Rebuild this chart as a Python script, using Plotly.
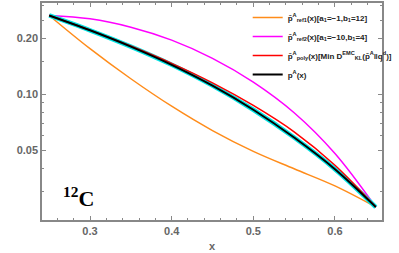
import plotly.graph_objects as go

x_vals = [0.25, 0.30, 0.35, 0.40, 0.45, 0.50, 0.55, 0.60, 0.65]
p_ref1 = [0.266, 0.1762, 0.1213, 0.0863, 0.0638, 0.0493, 0.0397, 0.0321, 0.0247]
p_ref2 = [0.266, 0.2553, 0.2301, 0.1959, 0.1563, 0.1164, 0.0796, 0.0480, 0.0247]
p_poly = [0.266, 0.2218, 0.1820, 0.1469, 0.1153, 0.0871, 0.0628, 0.0415, 0.0247]
p_true = [0.266, 0.2213, 0.1807, 0.1442, 0.1114, 0.0826, 0.0585, 0.0395, 0.0247]

y_ticks = [0.05, 0.10, 0.20]
y_ticktext = ["0.05", "0.10", "0.20"]
y_minor = [0.02, 0.03, 0.04, 0.06, 0.07, 0.08, 0.09, 0.15, 0.25, 0.3]
x_ticks = [0.3, 0.4, 0.5, 0.6]

names = [
    "p\u0304<sup>A</sup><sub>ref1</sub>(x)[a<sub>1</sub>=\u22121,b<sub>1</sub>=12]",
    "p\u0304<sup>A</sup><sub>ref2</sub>(x)[a<sub>1</sub>=\u221210,b<sub>1</sub>=4]",
    "p\u0304<sup>A</sup><sub>poly</sub>(x)[Min D<sup>EMC</sup><sub>KL</sub>(p\u0304<sup>A</sup>\u2016q<sup>d</sup>)]",
    "p<sup>A</sup>(x)",
]

fig = go.Figure()
fig.add_trace(go.Scatter(x=x_vals, y=p_ref1, mode="lines", name=names[0],
                         line=dict(color="#FF8C1A", width=1.5, shape="spline")))
fig.add_trace(go.Scatter(x=x_vals, y=p_ref2, mode="lines", name=names[1],
                         line=dict(color="#FF00FF", width=1.5, shape="spline")))
fig.add_trace(go.Scatter(x=x_vals, y=p_true, mode="lines", showlegend=False,
                         line=dict(color="#00E5E5", width=4.5, shape="spline")))
fig.add_trace(go.Scatter(x=x_vals, y=p_poly, mode="lines", name=names[2],
                         line=dict(color="#FF0000", width=1.5, shape="spline")))
fig.add_trace(go.Scatter(x=x_vals, y=p_true, mode="lines", name=names[3],
                         line=dict(color="#000000", width=2, shape="spline")))

axis_common = dict(showline=True, mirror="allticks", linecolor="#888888", linewidth=1.5,
                   ticks="inside", tickcolor="#888888", showgrid=False, zeroline=False,
                   tickfont=dict(family="Liberation Sans", size=11, color="#666666", weight="bold"))

fig.update_xaxes(range=[0.2412, 0.6576], tickvals=x_ticks, ticklen=4,
                 minor=dict(dtick=0.02, tick0=0.24, ticklen=2, ticks="inside", tickcolor="#888888"),
                 title=dict(text="x", font=dict(family="Liberation Sans", size=11, color="#666666", weight="bold"),
                            standoff=6),
                 **axis_common)
fig.update_yaxes(type="log", range=[-1.677, -0.508], tickvals=y_ticks, ticktext=y_ticktext, ticklen=4,
                 minor=dict(tickmode="array", tickvals=y_minor, ticklen=2, ticks="inside", tickcolor="#888888"),
                 **axis_common)

fig.add_annotation(text="<sup>12</sup>C", x=0.056, y=0.034, xref="paper", yref="paper",
                   xanchor="left", yanchor="bottom",
                   showarrow=False, font=dict(family="Liberation Serif", size=22, color="#000000", weight="bold"))

fig.update_layout(
    width=399, height=253,
    margin=dict(l=42, r=3, t=1, b=33),
    paper_bgcolor="white", plot_bgcolor="white",
    legend=dict(x=0.605, y=1.0, xanchor="left", yanchor="top", bgcolor="rgba(0,0,0,0)",
                font=dict(family="Liberation Sans", size=8, color="#222222", weight="bold"),
                itemwidth=30, tracegroupgap=0),
)

fig.write_html("out.html", config={"displayModeBar": False},
               post_script="document.body.style.margin='0';document.body.style.overflow='hidden';")
